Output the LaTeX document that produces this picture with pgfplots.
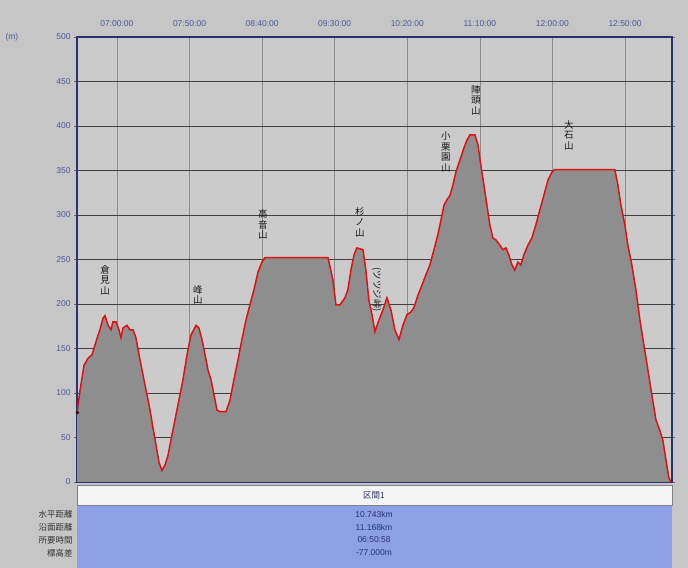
\documentclass[border=0pt]{standalone}
\usepackage{pgfplots}
\pgfplotsset{compat=1.18}
\usepackage{fontspec}
\setmainfont{Liberation Sans}
\newfontfamily\jp{Noto Sans CJK JP}
\definecolor{bg}{HTML}{C6C6C6}
\definecolor{plotbg}{HTML}{CBCBCB}
\definecolor{fillg}{HTML}{8E8E8E}
\definecolor{tickc}{HTML}{4A5A9A}
\definecolor{navy}{HTML}{2A3070}
\definecolor{tblue}{HTML}{8DA0E6}
\definecolor{line}{HTML}{E01010}

\pgfplotstableread{
t v
392.5 78
394.6 103
397.3 131
400.1 139
402.8 143
404.9 154
407.0 165
408.3 171
410.4 184
411.8 187
413.9 176
415.9 171
417.3 180
419.4 180
421.4 171
422.8 162
424.2 173
426.9 176
429.0 171
431.1 171
433.1 162
435.2 143
438.0 120
440.7 98
442.8 81
444.8 61
446.9 42
449.0 22
451.0 13
453.1 19
455.2 30
457.2 47
460.0 70
462.7 92
465.5 115
468.3 143
471.0 165
474.5 176
476.5 173
478.6 160
480.7 143
482.7 126
484.8 115
486.9 98
488.9 81
491.0 79
495.1 79
497.9 92
500.6 115
503.4 137
506.1 160
508.9 182
511.6 199
514.4 216
517.2 236
519.9 247
522.0 252
565.4 252
568.8 227
570.9 199
573.6 199
577.1 207
579.1 216
581.2 238
583.3 255
585.3 263
589.5 261
591.5 238
593.6 204
595.7 188
597.7 169
600.5 182
603.2 193
606.0 207
608.8 193
611.5 171
614.3 160
617.0 176
619.8 188
622.5 191
624.6 196
627.4 210
630.1 221
632.9 233
635.6 244
638.4 261
641.1 278
643.2 294
645.3 311
647.3 317
649.4 322
651.5 334
653.5 348
656.3 362
659.0 375
661.1 384
663.2 390
666.6 390
668.7 379
670.7 356
672.8 334
674.9 311
676.9 289
679.0 274
681.1 272
683.8 266
685.9 261
687.9 263
690.0 255
692.1 244
694.1 238
696.2 247
698.3 244
700.3 255
703.1 266
705.8 274
708.6 289
711.4 306
714.1 322
716.9 339
719.6 348
721.5 351
763.0 351
765.1 334
767.2 311
769.9 289
772.0 266
774.7 244
777.5 216
780.3 182
783.0 154
785.8 126
788.5 98
791.3 70
794.0 58
796.1 47
798.2 25
800.2 5
801.6 0
}\profile

\begin{document}
\begin{tikzpicture}[x=1bp,y=1bp]
  % page background and the summary table underneath
  \fill[bg] (0,0) rectangle (688,568);
  \fill[tblue] (77,0) rectangle (672,63);
  \fill[white!92!gray] (77,63) rectangle (672,83);
  \draw[gray] (77,63) rectangle (672,83);
  \node[font=\jp\fontsize{8.5}{9}\selectfont, text=navy] at (374,73) {区間1};
  \foreach \y/\lab/\val in {54/水平距離/10.743km, 41/沿面距離/11.168km, 28/所要時間/06:50:58, 15/標高差/-77.000m} {
    \node[font=\fontsize{8.5}{9}\selectfont, text=navy] at (374,\y) {\val};
    \node[font=\jp\fontsize{8.5}{9}\selectfont, anchor=east, text=black!80] at (76,\y) {\lab};
  }
  \node[font=\fontsize{8.5}{9}\selectfont, text=tickc, anchor=west] at (2,531) {(m)};

  \begin{axis}[
    at={(77bp,86bp)}, anchor=south west,
    width=595bp, height=445bp, scale only axis,
    xmin=392.5, xmax=802.4, ymin=0, ymax=500,
    axis background/.style={fill=plotbg},
    axis line style={navy, line width=1.2pt},
    xtick={420,470,520,570,620,670,720,770},
    xticklabels={07:00:00,07:50:00,08:40:00,09:30:00,10:20:00,11:10:00,12:00:00,12:50:00},
    xticklabel pos=upper,
    x tick label style={yshift=4bp},
    ytick={0,50,...,500},
    /pgf/number format/assume math mode=true,
    tick label style={font=\fontsize{8.5}{9}\selectfont, text=tickc},
    tick align=outside, major tick length=3bp,
    tick style={black!60, thin},
    x tick style={draw=none},
    grid=major,
    x grid style={black!45, thin},
    y grid style={black!75, thin},
  ]
    \addplot[draw=none, fill=fillg] table[x=t, y=v] {\profile} \closedcycle;
    \addplot[line, line width=1.5pt] table[x=t, y=v] {\profile};
    \addplot[only marks, mark=*, mark size=1.5pt, black!70!red] coordinates {(392.8,78)};
    \begin{scope}[font=\jp\fontsize{9.5}{10.5}\selectfont, align=center, inner sep=0pt, text=black!90]
      \node at (axis cs:411.8,227) {倉\\見\\山};
      \node at (axis cs:475.8,210) {峰\\山};
      \node at (axis cs:520.6,289) {高\\音\\山};
      \node at (axis cs:587.4,292) {杉\\ノ\\山};
      \node[rotate=-90] at (axis cs:599,216) {(ツツジ峠)};
      \node at (axis cs:646.6,371) {小\\栗\\園\\山};
      \node at (axis cs:667.3,429) {陣\\頭\\山};
      \node at (axis cs:731.3,390) {大\\石\\山};
    \end{scope}
  \end{axis}
\end{tikzpicture}
\end{document}
